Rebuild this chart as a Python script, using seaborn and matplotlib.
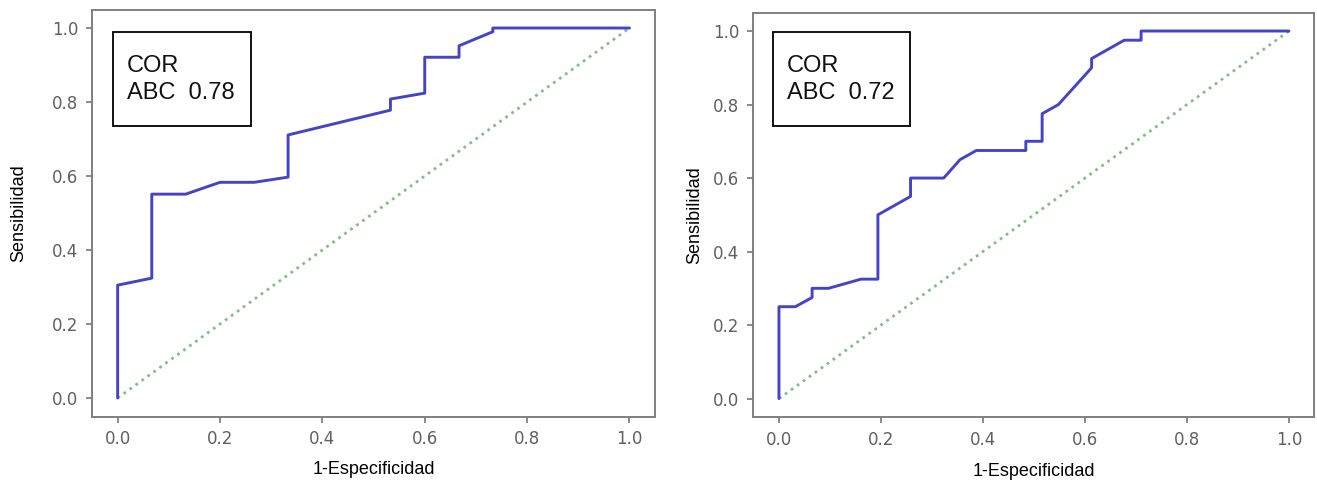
import matplotlib
matplotlib.use("Agg")
import matplotlib.pyplot as plt
from matplotlib.patches import Rectangle
import seaborn as sns
import pandas as pd

# Left ROC curve (AUC 0.78)
fpr_left = [0.0, 0.0, 0.0667, 0.0667, 0.133, 0.2, 0.267, 0.333, 0.333, 0.533, 0.533,
            0.6, 0.6, 0.667, 0.667, 0.733, 0.733, 1.0]
tpr_left = [0.0, 0.305, 0.324, 0.551, 0.551, 0.583, 0.583, 0.597, 0.711, 0.778, 0.808,
            0.824, 0.921, 0.921, 0.952, 0.99, 1.0, 1.0]

# Right ROC curve (AUC 0.72)
fpr_right = [0.0, 0.0, 0.032, 0.065, 0.065, 0.097, 0.161, 0.194, 0.194, 0.258, 0.258,
             0.323, 0.355, 0.387, 0.484, 0.484, 0.516, 0.516, 0.548, 0.613, 0.613,
             0.677, 0.71, 0.71, 1.0]
tpr_right = [0.0, 0.25, 0.25, 0.275, 0.30, 0.30, 0.325, 0.325, 0.50, 0.55, 0.60,
             0.60, 0.65, 0.675, 0.675, 0.70, 0.70, 0.775, 0.80, 0.90, 0.925,
             0.975, 0.975, 1.0, 1.0]

diag = [0.0, 1.0]
box_title = "COR"
auc_labels = ["ABC  0.78", "ABC  0.72"]
xlabel = "1-Especificidad"
ylabel = "Sensibilidad"
ticks = [0.0, 0.2, 0.4, 0.6, 0.8, 1.0]

sns.set_style("white")
plt.rcParams["font.family"] = ["Liberation Sans", "DejaVu Sans"]

fig = plt.figure(figsize=(13.17, 4.86), dpi=100)
ax1 = fig.add_axes([0.0699, 0.143, 0.4275, 0.8374])
ax2 = fig.add_axes([0.5721, 0.142, 0.426, 0.832])

curve_color = "#4444c8"
diag_color = "#80c080"

layout = [
    # ax, fpr, tpr, label, box(x0,y0,w,h), text x, line1 y, line2 y, ylabel x, xlabel y
    (ax1, fpr_left, tpr_left, auc_labels[0], (0.0373, 0.7138, 0.2451, 0.2309), 0.062, 0.861, 0.796, -0.131, -0.131),
    (ax2, fpr_right, tpr_right, auc_labels[1], (0.0348, 0.7200, 0.2442, 0.2320), 0.0597, 0.868, 0.801, -0.104, -0.136),
]

for ax, fx, ty, lab, box, tx, y1, y2, ylx, xly in layout:
    df = pd.DataFrame({"fpr": fx, "tpr": ty})
    dd = pd.DataFrame({"x": diag, "y": diag})
    sns.lineplot(data=dd, x="x", y="y", ax=ax, color=diag_color, lw=2.0,
                 linestyle=":", sort=False, estimator=None)
    sns.lineplot(data=df, x="fpr", y="tpr", ax=ax, color=curve_color, lw=2.1,
                 sort=False, estimator=None)
    ax.set_xlim(-0.05, 1.05)
    ax.set_ylim(-0.05, 1.05)
    ax.set_xticks(ticks)
    ax.set_yticks(ticks)
    ax.set_xticklabels([f"{t:.1f}" for t in ticks], fontfamily="DejaVu Sans")
    ax.set_yticklabels([f"{t:.1f}" for t in ticks], fontfamily="DejaVu Sans")
    ax.tick_params(axis="both", direction="out", length=4, width=1.2,
                   colors="#777777", labelsize=12, labelcolor="#606060", pad=6,
                   bottom=True, left=True)
    for s in ax.spines.values():
        s.set_color("#808080")
        s.set_linewidth(1.4)
    ax.set_xlabel(xlabel, fontsize=13, color="black")
    ax.set_ylabel(ylabel, fontsize=13, color="black")
    ax.xaxis.label.set_va("center")
    ax.yaxis.label.set_va("center")
    ax.yaxis.set_label_coords(ylx, 0.5)
    ax.xaxis.set_label_coords(0.5, xly)
    ax.add_patch(Rectangle((box[0], box[1]), box[2], box[3], transform=ax.transAxes,
                           fc="white", ec="black", lw=1.3, zorder=5))
    ax.text(tx, y1, box_title, transform=ax.transAxes, fontsize=17,
            va="center", ha="left", zorder=6, color="#111111")
    ax.text(tx, y2, lab, transform=ax.transAxes, fontsize=17,
            va="center", ha="left", zorder=6, color="#111111")

fig.savefig("out.png", dpi=100)
